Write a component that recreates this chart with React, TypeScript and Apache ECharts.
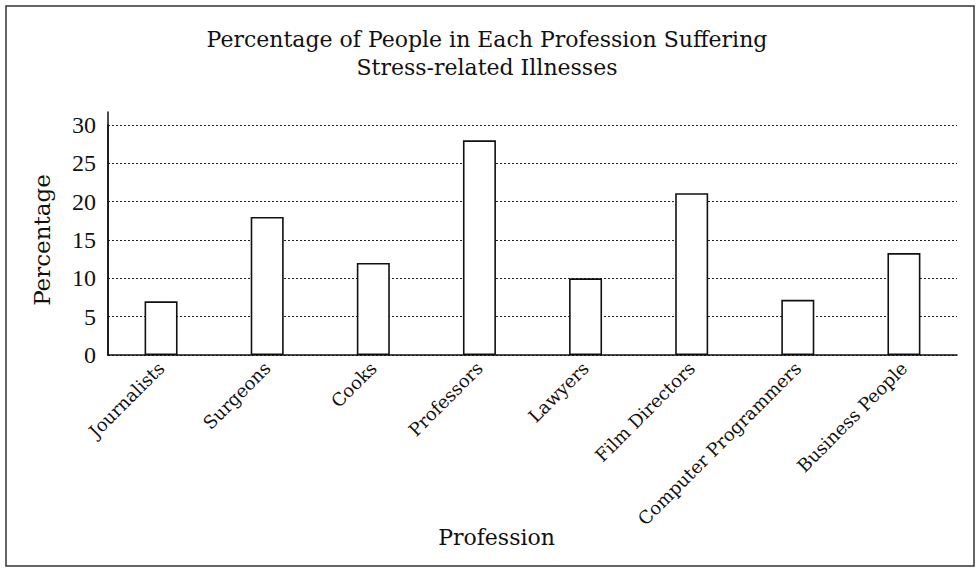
import React, { useEffect, useRef } from "react";
import * as echarts from "echarts";

const categories = [
  "Journalists",
  "Surgeons",
  "Cooks",
  "Professors",
  "Lawyers",
  "Film Directors",
  "Computer Programmers",
  "Business People",
];
const percentages = [7, 18, 12, 28, 10, 21.1, 7.2, 13.3];
const titleLines = [
  "Percentage of People in Each Profession Suffering",
  "Stress-related Illnesses",
];
const yMin = 0;
const yMax = 30;
const yInterval = 5;

const FONT = "DejaVu Serif";
const NUM_FONT = "Liberation Serif";
const INK = "#111";

export default function App() {
  const ref = useRef<HTMLDivElement>(null);
  useEffect(() => {
    if (!ref.current) return;
    const chart = echarts.init(ref.current, undefined, { renderer: "svg" });
    chart.setOption({
      animation: false,
      backgroundColor: "#fff",
      title: {
        text: titleLines.join("\n"),
        left: 482,
        top: 20,
        textAlign: "center",
        textStyle: {
          fontFamily: FONT,
          fontSize: 22,
          fontWeight: "normal",
          color: INK,
          lineHeight: 28,
        },
      },
      graphic: [
        {
          type: "rect",
          shape: { x: 6, y: 6, width: 968, height: 560 },
          style: { fill: "none", stroke: "#333", lineWidth: 1.5 },
          silent: true,
        },
      ],
      grid: [
        { left: 108, right: 20, top: 125, bottom: 213 },
        { left: 108, right: 20, top: 112, bottom: 213 },
      ],
      xAxis: [
        {
          type: "category",
          gridIndex: 0,
          data: categories,
          name: "Profession",
          nameLocation: "middle",
          nameGap: 171,
          nameMoveOverlap: false,
          nameTextStyle: {
            fontFamily: FONT,
            fontSize: 22,
            color: INK,
            padding: [0, 72, 0, 0],
          },
          axisLine: { show: true, lineStyle: { color: INK, width: 1.5 } },
          axisTick: { show: false },
          axisLabel: {
            rotate: 45,
            margin: 10,
            interval: 0,
            fontFamily: FONT,
            fontSize: 18,
            color: INK,
          },
          splitLine: { show: false },
        },
        {
          type: "category",
          gridIndex: 1,
          data: categories,
          show: false,
        },
      ],
      yAxis: [
        {
          type: "value",
          gridIndex: 0,
          min: yMin,
          max: yMax,
          interval: yInterval,
          name: "Percentage",
          nameLocation: "middle",
          nameGap: 55,
          nameMoveOverlap: false,
          nameTextStyle: { fontFamily: FONT, fontSize: 23, color: INK },
          axisLine: { show: true, lineStyle: { color: INK, width: 1.5 } },
          axisTick: { show: false },
          axisLabel: {
            margin: 12,
            fontFamily: NUM_FONT,
            fontSize: 24,
            color: INK,
          },
          splitLine: {
            show: true,
            lineStyle: { color: "#222", type: [2, 2], width: 1.2 },
          },
        },
        {
          type: "value",
          gridIndex: 1,
          min: 0,
          max: 1,
          axisLine: { show: true, lineStyle: { color: INK, width: 1.5 } },
          axisTick: { show: false },
          axisLabel: { show: false },
          splitLine: { show: false },
        },
      ],
      series: [
        {
          type: "bar",
          xAxisIndex: 0,
          yAxisIndex: 0,
          data: percentages,
          barWidth: 33,
          itemStyle: { color: "#fff", borderColor: INK, borderWidth: 1.6 },
          emphasis: { disabled: true },
        },
      ],
    });
    return () => chart.dispose();
  }, []);
  return (
    <div
      ref={ref}
      style={{ position: "fixed", left: 0, top: 0, width: 977, height: 568 }}
    />
  );
}
